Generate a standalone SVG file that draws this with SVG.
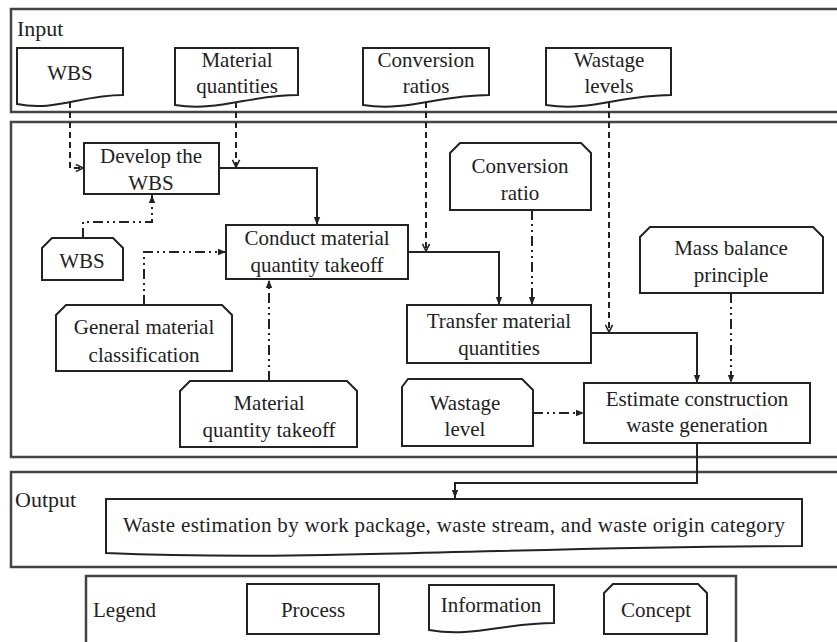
<svg xmlns="http://www.w3.org/2000/svg" width="837" height="642" viewBox="0 0 837 642">
<style>
.panel{fill:none;stroke:#444;stroke-width:2.5}
.box{fill:#fff;stroke:#222;stroke-width:2}
text{font-family:"Times New Roman",Times,"Liberation Serif",Tinos,"Nimbus Roman","Nimbus Roman No9 L",FreeSerif,"DejaVu Serif","Noto Serif",serif;font-size:21px;fill:#222;text-anchor:middle}
.lbl{font-size:22px;text-anchor:start}
.solid{fill:none;stroke:#222;stroke-width:2;marker-end:url(#tri)}
.dash{fill:none;stroke:#222;stroke-width:2;stroke-dasharray:6 4;marker-end:url(#chev)}
.dd{fill:none;stroke:#222;stroke-width:2;stroke-dasharray:10 4 2 4 2 4;marker-end:url(#tri)}
</style>
<defs>
<marker id="tri" viewBox="0 0 10 10" refX="10" refY="5" markerWidth="8" markerHeight="8" markerUnits="userSpaceOnUse" orient="auto"><path d="M0,1 L10,5 L0,9 z" fill="#222"/></marker>
<marker id="chev" viewBox="0 0 10 10" refX="9" refY="5" markerWidth="9" markerHeight="9" markerUnits="userSpaceOnUse" orient="auto"><path d="M1,1 L9,5 L1,9" fill="none" stroke="#222" stroke-width="1.8"/></marker>
</defs>
<rect width="837" height="642" fill="#fff"/>

<g id="panels">
<rect class="panel" x="11" y="9" width="840" height="103"/>
<rect class="panel" x="11" y="122" width="840" height="335"/>
<rect class="panel" x="11" y="472" width="840" height="95"/>
<rect class="panel" x="86" y="576" width="650" height="75"/>
<text class="lbl" x="17" y="36">Input</text>
<text class="lbl" x="15" y="507">Output</text>
<text class="lbl" x="93" y="617" style="font-size:21px">Legend</text>
</g>

<g id="connectors">
<path class="dash" d="M70,102 V168 H83"/>
<path class="dash" d="M236,102 V167"/>
<path class="dash" d="M426,102 V251"/>
<path class="dash" d="M609,102 V332"/>
<path class="solid" d="M219,168 H317 V225"/>
<path class="solid" d="M408,252 H499 V305"/>
<path class="solid" d="M591,333 H697 V383"/>
<path class="solid" d="M697,443 V483 H455 V498"/>
<path class="dd" d="M83,238 V222 H152 V195"/>
<path class="dd" d="M144,305 V252 H226"/>
<path class="dd" d="M269,381 V280"/>
<path class="dd" d="M532,210 V305"/>
<path class="dd" d="M731,293 V383"/>
<path class="dd" d="M533,413 H584"/>
</g>

<g id="in-wbs">
<path class="box" d="M17,48 H123 V95 C81,95 54,112 17,104 Z"/>
<text x="70" y="80">WBS</text>
</g>
<g id="in-material">
<path class="box" d="M175,48 H298 V95 C249,95 218,112 175,105 Z"/>
<text x="237" y="67">Material</text>
<text x="237" y="93">quantities</text>
</g>
<g id="in-conversion">
<path class="box" d="M363,48 H489 V95 C439,95 407,112 363,105 Z"/>
<text x="426" y="67">Conversion</text>
<text x="426" y="93">ratios</text>
</g>
<g id="in-wastage">
<path class="box" d="M546,48 H671 V95 C621,95 590,112 546,105 Z"/>
<text x="609" y="67">Wastage</text>
<text x="609" y="93">levels</text>
</g>

<g id="p-develop">
<rect class="box" x="84" y="143" width="135" height="51"/>
<text x="151" y="163">Develop the</text>
<text x="151" y="190">WBS</text>
</g>
<g id="c-wbs">
<path class="box" d="M42,248 L52,238 H113 L123,248 V280 H42 Z"/>
<text x="82" y="268">WBS</text>
</g>
<g id="p-conduct">
<rect class="box" x="226" y="225" width="182" height="54"/>
<text x="317" y="245">Conduct material</text>
<text x="317" y="272">quantity takeoff</text>
</g>
<g id="c-general">
<path class="box" d="M56,315 L66,305 H222 L232,315 V371 H56 Z"/>
<text x="144" y="334">General material</text>
<text x="144" y="362">classification</text>
</g>
<g id="c-mqt">
<path class="box" d="M180,391 L190,381 H347 L357,391 V447 H180 Z"/>
<text x="269" y="410">Material</text>
<text x="269" y="437">quantity takeoff</text>
</g>
<g id="c-conversion">
<path class="box" d="M450,153 L460,143 H581 L591,153 V210 H450 Z"/>
<text x="520" y="173">Conversion</text>
<text x="520" y="200">ratio</text>
</g>
<g id="p-transfer">
<rect class="box" x="407" y="305" width="184" height="58"/>
<text x="499" y="328">Transfer material</text>
<text x="499" y="355">quantities</text>
</g>
<g id="c-mass">
<path class="box" d="M640,237 L650,227 H813 L823,237 V293 H640 Z"/>
<text x="731" y="255">Mass balance</text>
<text x="731" y="282">principle</text>
</g>
<g id="c-wastage">
<path class="box" d="M402,387 L408,379 H522 L533,390 V446 H402 Z"/>
<text x="465" y="410">Wastage</text>
<text x="465" y="436">level</text>
</g>
<g id="p-estimate">
<rect class="box" x="584" y="383" width="226" height="60"/>
<text x="697" y="406">Estimate construction</text>
<text x="697" y="432">waste generation</text>
</g>

<g id="out-waste">
<path class="box" d="M106,499 H802 V546 C524,546 315,562 106,553 Z"/>
<text x="454" y="532" textLength="662" lengthAdjust="spacing">Waste estimation by work package, waste stream, and waste origin category</text>
</g>

<g id="lg-process">
<rect class="box" x="247" y="584" width="132" height="50"/>
<text x="313" y="617">Process</text>
</g>
<g id="lg-information">
<path class="box" d="M429,585 H554 V623 C504,623 472,638 429,630 Z"/>
<text x="491" y="612">Information</text>
</g>
<g id="lg-concept">
<path class="box" d="M604,593 L613,584 H698 L707,593 V634 H604 Z"/>
<text x="656" y="617">Concept</text>
</g>
</svg>
